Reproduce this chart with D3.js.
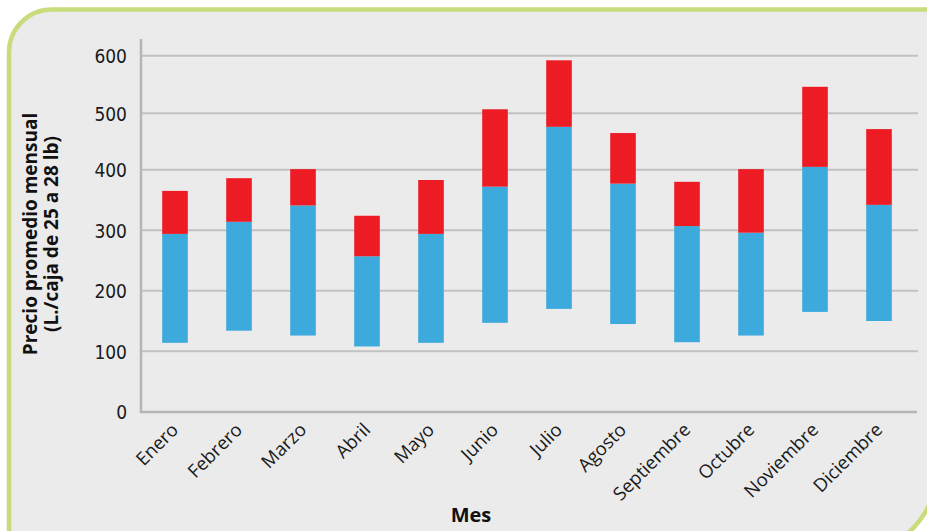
<!DOCTYPE html>
<html>
<head>
<meta charset="utf-8">
<script src="https://cdn.jsdelivr.net/npm/d3@7"></script>
<style>
  body { margin: 0; background: #fff; }
  svg { display: block; }
  .tick-y { font-family: 'Liberation Sans Narrow', 'DejaVu Sans Condensed', sans-serif; font-size: 19px; fill: #1a1a1a; }
  .tick-x { font-family: 'Open Sans', sans-serif; font-size: 18.5px; fill: #1a1a1a; }
  .title { font-family: 'Open Sans', sans-serif; font-weight: bold; fill: #111; }
</style>
</head>
<body>
<div id="chart"></div>
<script>
// values (L. per box)
const months = ['Enero', 'Febrero', 'Marzo', 'Abril', 'Mayo', 'Junio', 'Julio',
  'Agosto', 'Septiembre', 'Octubre', 'Noviembre', 'Diciembre']
const minPrice = [114, 134, 126, 108, 114, 147, 170, 145, 115, 126, 165, 150]
const midPrice = [294, 314, 341, 257, 294, 372, 476, 377, 307, 296, 405, 342]
const maxPrice = [365, 386, 401, 324, 383, 507, 592, 465, 380, 401, 546, 472]
const yTicks = [0, 100, 200, 300, 400, 500, 600]

const width = 927
const height = 531

const svg = d3.select('#chart')
  .append('svg')
  .attr('width', width)
  .attr('height', height)

// green frame, rounded top-left and bottom-right
svg.append('path')
  .attr('d', 'M9,570 V52 A43,43 0 0 1 52,9.5 H940 V460 A100,100 0 0 1 840,560 Z')
  .attr('fill', '#ebebeb')
  .attr('stroke', '#c8dc7c')
  .attr('stroke-width', 4.5)

// the original gridlines are not evenly spaced, so follow them
const yPositionScale = d3.scaleLinear()
  .domain(yTicks)
  .range([412, 351.3, 290.7, 230.3, 169.7, 113.3, 55.7])

const xPositionScale = d3.scaleBand()
  .domain(months)
  .range([143, 911])
  .paddingInner(0.6)
  .paddingOuter(0.3)

// gridlines
svg.append('g')
  .selectAll('line')
  .data(yTicks.slice(1))
  .enter()
  .append('line')
  .attr('x1', 141)
  .attr('x2', 918)
  .attr('y1', d => yPositionScale(d))
  .attr('y2', d => yPositionScale(d))
  .attr('stroke', '#c2c2c2')
  .attr('stroke-width', 2)

// y axis
const yAxis = d3.axisLeft(yPositionScale)
  .tickValues(yTicks)
  .tickSize(0)
  .tickPadding(14)
svg.append('g')
  .attr('class', 'axis y-axis')
  .attr('transform', 'translate(141,0)')
  .call(yAxis)
  .call(g => g.select('.domain').remove())
  .selectAll('text')
  .attr('class', 'tick-y')
  .attr('font-family', null)
  .attr('font-size', null)
  .attr('dy', '0.36em')

svg.append('line')
  .attr('x1', 141).attr('x2', 141)
  .attr('y1', 39).attr('y2', 413)
  .attr('stroke', '#b5b5b5')
  .attr('stroke-width', 2.5)

// bars: blue from min to mid, red from mid to max
const bars = svg.append('g')
  .selectAll('g')
  .data(months)
  .enter()
  .append('g')

bars.append('rect')
  .attr('x', d => xPositionScale(d))
  .attr('width', xPositionScale.bandwidth())
  .attr('y', (d, i) => yPositionScale(midPrice[i]))
  .attr('height', (d, i) => yPositionScale(minPrice[i]) - yPositionScale(midPrice[i]))
  .attr('fill', '#3caadd')

bars.append('rect')
  .attr('x', d => xPositionScale(d))
  .attr('width', xPositionScale.bandwidth())
  .attr('y', (d, i) => yPositionScale(maxPrice[i]))
  .attr('height', (d, i) => yPositionScale(midPrice[i]) - yPositionScale(maxPrice[i]))
  .attr('fill', '#ed1c24')

// x axis
const xAxis = d3.axisBottom(xPositionScale).tickSize(0)
svg.append('g')
  .attr('class', 'axis x-axis')
  .attr('transform', 'translate(0,412)')
  .call(xAxis)
  .call(g => g.select('.domain').remove())
  .selectAll('text')
  .attr('class', 'tick-x')
  .attr('font-family', null)
  .attr('font-size', null)
  .attr('x', 0)
  .attr('y', 0)
  .attr('dy', 0)
  .attr('text-anchor', 'end')
  .attr('transform', 'translate(4.5,19) rotate(-45)')

svg.append('line')
  .attr('x1', 140).attr('x2', 917)
  .attr('y1', 412).attr('y2', 412)
  .attr('stroke', '#b5b5b5')
  .attr('stroke-width', 2.5)

// titles
svg.append('text')
  .attr('class', 'title')
  .attr('x', 471)
  .attr('y', 522)
  .attr('text-anchor', 'middle')
  .attr('font-size', 20)
  .text('Mes')

const yTitle = svg.append('text')
  .attr('class', 'title')
  .attr('transform', 'translate(37,234) rotate(-90)')
  .attr('text-anchor', 'middle')
  .attr('font-size', 19)

yTitle.append('tspan')
  .attr('x', 0)
  .attr('y', 0)
  .text('Precio promedio mensual')

yTitle.append('tspan')
  .attr('x', 0)
  .attr('y', 21)
  .text('(L./caja de 25 a 28 lb)')
</script>
</body>
</html>
